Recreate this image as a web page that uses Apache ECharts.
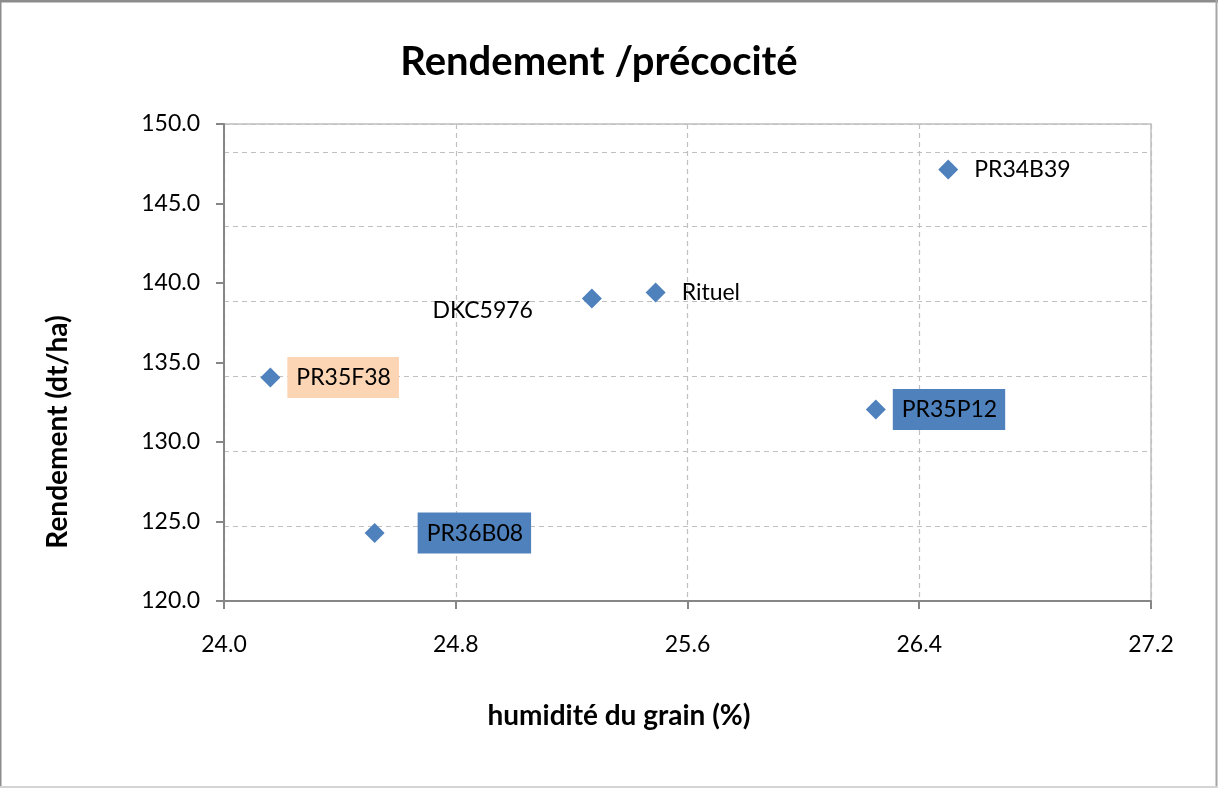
<!DOCTYPE html>
<html>
<head>
<meta charset="utf-8">
<script src="https://cdn.jsdelivr.net/npm/echarts@6/dist/echarts.min.js"></script>
<style>
  html, body { margin: 0; padding: 0; background: #fff; }
  #chart { width: 1218px; height: 788px; }
</style>
</head>
<body>
<div id="chart"></div>
<script>
// hybrid names, grain humidity (%) and yield (dt/ha)
const varieties = ['PR35F38', 'PR36B08', 'DKC5976', 'Rituel', 'PR34B39', 'PR35P12'];
const humidity = [24.16, 24.52, 25.27, 25.49, 26.5, 26.25];
const rendement = [134.05, 124.27, 139.03, 139.41, 147.14, 132.04];

const xTicks = { min: 24.0, max: 27.2, interval: 0.8 };
const yTicks = { min: 120, max: 150, interval: 5 };

const FONT = 'Lato';
const BLUE = '#4f81bd';

// per-label look, as in the original sheet
const labelStyles = {
  PR35F38: { backgroundColor: '#fcd5b4' },
  PR36B08: { backgroundColor: BLUE, offset: [26, 0] },
  DKC5976: { position: 'left', offset: [-34, 12] },
  PR35P12: { backgroundColor: BLUE }
};

const points = varieties.map((name, i) => ({
  name,
  value: [humidity[i], rendement[i]],
  label: Object.assign(
    {
      show: true,
      position: 'right',
      distance: 7,
      padding: [9, 8, 9, 9],
      formatter: name,
      color: '#000',
      opacity: 1,
      fontFamily: FONT,
      fontSize: 23
    },
    labelStyles[name] || {}
  )
}));

const chart = echarts.init(document.getElementById('chart'));

chart.setOption({
  animation: false,
  textStyle: { fontFamily: FONT },
  grid: {
    left: 224,
    right: 67,
    top: 124,
    bottom: 187,
    show: true,
    borderColor: '#bfbfbf',
    borderWidth: 1.5,
    backgroundColor: '#fff'
  },
  graphic: [
    { type: 'line', shape: { x1: 0, y1: 1, x2: 1218, y2: 1 }, style: { stroke: '#8c8c8c', lineWidth: 3 } },
    { type: 'line', shape: { x1: 0.5, y1: 0, x2: 0.5, y2: 788 }, style: { stroke: '#8c8c8c', lineWidth: 2 } },
    { type: 'line', shape: { x1: 1216.5, y1: 0, x2: 1216.5, y2: 788 }, style: { stroke: '#a6a6a6', lineWidth: 2 } },
    { type: 'line', shape: { x1: 0, y1: 787, x2: 1218, y2: 787 }, style: { stroke: '#d4d4d4', lineWidth: 2 } },
    {
      type: 'text',
      x: 599,
      y: 62,
      style: {
        text: 'Rendement /précocité',
        fontFamily: FONT,
        fontWeight: 'bold',
        fontSize: 40,
        fill: '#000',
        align: 'center',
        verticalAlign: 'middle'
      }
    },
    {
      type: 'text',
      x: 619,
      y: 716,
      style: {
        text: 'humidité du grain (%)',
        fontFamily: FONT,
        fontWeight: 'bold',
        fontSize: 28,
        fill: '#000',
        align: 'center',
        verticalAlign: 'middle'
      }
    },
    {
      type: 'text',
      x: 58,
      y: 432,
      rotation: Math.PI / 2,
      style: {
        text: 'Rendement (dt/ha)',
        fontFamily: FONT,
        fontWeight: 'bold',
        fontSize: 28,
        fill: '#000',
        align: 'center',
        verticalAlign: 'middle'
      }
    }
  ],
  xAxis: {
    type: 'value',
    min: xTicks.min,
    max: xTicks.max,
    interval: xTicks.interval,
    axisLine: { show: true, lineStyle: { color: '#868686', width: 2 } },
    axisTick: { show: true, length: 8, lineStyle: { color: '#868686', width: 2 } },
    axisLabel: {
      margin: 32,
      color: '#000',
      fontFamily: FONT,
      fontSize: 23,
      formatter: (v) => v.toFixed(1)
    },
    splitLine: { show: true, lineStyle: { color: '#c0c0c0', type: [5, 4], width: 1.2 } }
  },
  yAxis: [
    {
      type: 'value',
      min: yTicks.min,
      max: yTicks.max,
      interval: yTicks.interval,
      axisLine: { show: true, lineStyle: { color: '#868686', width: 2 } },
      axisTick: { show: true, length: 8, lineStyle: { color: '#868686', width: 2 } },
      axisLabel: {
        margin: 24,
        color: '#000',
        fontFamily: FONT,
        fontSize: 23,
        formatter: (v) => v.toFixed(1)
      },
      splitLine: { show: false }
    },
    {
      // the sheet's horizontal gridlines sit on a slightly tighter spacing
      type: 'value',
      min: 0,
      max: 6.372,
      interval: 1,
      axisLine: { show: false },
      axisTick: { show: false },
      axisLabel: { show: false },
      splitLine: { show: true, lineStyle: { color: '#c0c0c0', type: [5, 4], width: 1.2 } }
    }
  ],
  series: [
    {
      type: 'scatter',
      yAxisIndex: 0,
      symbol: 'diamond',
      symbolSize: [20, 20],
      itemStyle: { color: BLUE, opacity: 1 },
      data: points,
      z: 3
    }
  ]
});
</script>
</body>
</html>
